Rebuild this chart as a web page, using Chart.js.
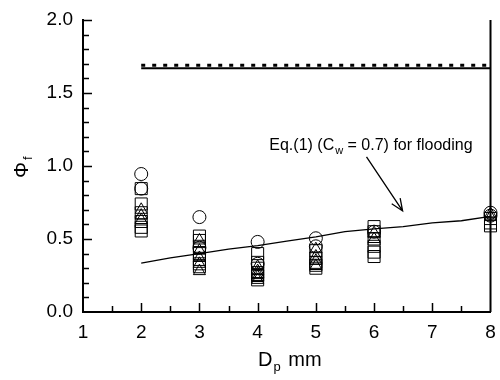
<!DOCTYPE html>
<html>
<head>
<meta charset="utf-8">
<script src="https://cdn.jsdelivr.net/npm/chart.js@4.4.1/dist/chart.umd.min.js"></script>
<style>
  html, body { margin: 0; padding: 0; background: #fff; }
  #wrap { width: 500px; height: 380px; }
</style>
</head>
<body>
<div id="wrap"><canvas id="grafico"></canvas></div>
<script>
// datos
const circX = [2, 2, 3, 3, 4, 4, 5, 5, 6, 8, 8];
const circY = [0.945, 0.845, 0.65, 0.44, 0.48, 0.33, 0.505, 0.45, 0.55, 0.68, 0.66];

const sqX = [2, 2, 2, 2, 2, 2, 3, 3, 3, 3, 3, 3, 3, 4, 4, 4, 4, 4, 4, 5, 5, 5, 5, 5, 6, 6, 6, 6, 6, 6, 8, 8, 8];
const sqY = [0.845, 0.74, 0.68, 0.62, 0.58, 0.555,
  0.52, 0.49, 0.45, 0.40, 0.36, 0.33, 0.31,
  0.40, 0.34, 0.30, 0.27, 0.25, 0.22,
  0.42, 0.37, 0.34, 0.32, 0.30,
  0.585, 0.55, 0.50, 0.45, 0.41, 0.38,
  0.64, 0.61, 0.59];

const triX = [2, 2, 2, 3, 3, 3, 3, 3, 4, 4, 4, 4, 4, 5, 5, 5, 5, 6, 6, 8, 8];
const triY = [0.70, 0.66, 0.63, 0.49, 0.42, 0.37, 0.33, 0.28, 0.31, 0.28, 0.26, 0.24, 0.22, 0.43, 0.38, 0.35, 0.315, 0.54, 0.50, 0.67, 0.65];

// Eq.(1) Cw = 0.7
const eqX = [2, 2.5, 3, 3.5, 4, 4.5, 5, 5.5, 6, 6.5, 7, 7.5, 8];
const eqY = [0.335, 0.37, 0.40, 0.43, 0.455, 0.485, 0.515, 0.55, 0.57, 0.585, 0.61, 0.625, 0.655];

// lineas horizontales de arriba
const limX = [2, 8];
const limSolido = [1.67, 1.67];
const limPunteado = [1.69, 1.69];

const xTicks = [1, 2, 3, 4, 5, 6, 7, 8];
const yTicks = [0, 0.5, 1.0, 1.5, 2.0];

const pares = (xs, ys) => xs.map((x, i) => ({ x: x, y: ys[i] }));

const fuente = "'Liberation Sans', Arial, sans-serif";

// ticks hacia adentro, borde derecho, titulos y flecha
const extras = {
  id: 'extras',
  afterDraw(chart) {
    const ctx = chart.ctx;
    const xs = chart.scales.x, ys = chart.scales.y;
    const a = chart.chartArea;
    ctx.save();
    ctx.strokeStyle = '#000';
    ctx.lineWidth = 1.5;
    ctx.beginPath();
    for (let i = 1; i <= 20; i++) {
      const py = Math.round(ys.getPixelForValue(i / 10)) + 0.5;
      const len = i % 5 === 0 ? 9 : 6;
      ctx.moveTo(a.left, py);
      ctx.lineTo(a.left + len, py);
    }
    for (let i = 3; i <= 15; i++) {
      const px = Math.round(xs.getPixelForValue(i / 2)) + 0.5;
      const len = i % 2 === 0 ? 9 : 6;
      ctx.moveTo(px, a.bottom);
      ctx.lineTo(px, a.bottom - len);
    }
    ctx.stroke();

    // borde derecho
    ctx.lineWidth = 2;
    ctx.beginPath();
    ctx.moveTo(a.right, a.top);
    ctx.lineTo(a.right, a.bottom);
    ctx.stroke();

    ctx.fillStyle = '#000';
    ctx.textBaseline = 'alphabetic';

    // titulo eje x: Dp mm
    ctx.font = '20px ' + fuente;
    ctx.textAlign = 'left';
    let tx = 258, ty = 366;
    ctx.fillText('D', tx, ty);
    tx += ctx.measureText('D').width;
    ctx.font = '13px ' + fuente;
    ctx.fillText('p', tx + 1, ty + 5);
    tx += ctx.measureText('p').width + 1;
    ctx.font = '20px ' + fuente;
    ctx.fillText(' mm', tx + 2, ty);

    // titulo eje y: Φf
    ctx.save();
    ctx.translate(28, 178);
    ctx.rotate(-Math.PI / 2);
    ctx.font = '20px ' + fuente;
    ctx.fillText('Φ', 0, 0);
    const w = ctx.measureText('Φ').width;
    ctx.font = '13px ' + fuente;
    ctx.fillText('f', w + 2, 4);
    ctx.restore();

    // texto de la ecuacion
    const ex = xs.getPixelForValue(4.2), ey = ys.getPixelForValue(1.11);
    ctx.font = '16px ' + fuente;
    let cx = ex;
    ctx.fillText('Eq.(1) (C', cx, ey);
    cx += ctx.measureText('Eq.(1) (C').width;
    ctx.font = '11px ' + fuente;
    ctx.fillText('w', cx + 1, ey + 4);
    cx += ctx.measureText('w').width + 1;
    ctx.font = '16px ' + fuente;
    ctx.fillText(' = 0.7) for flooding', cx, ey);

    // flecha
    const x0 = xs.getPixelForValue(5.87), y0 = ys.getPixelForValue(1.062);
    const x1 = xs.getPixelForValue(6.49), y1 = ys.getPixelForValue(0.692);
    const ang = Math.atan2(y1 - y0, x1 - x0);
    ctx.lineWidth = 1.3;
    ctx.beginPath();
    ctx.moveTo(x0, y0);
    ctx.lineTo(x1, y1);
    ctx.moveTo(x1 - 13 * Math.cos(ang - 0.4), y1 - 13 * Math.sin(ang - 0.4));
    ctx.lineTo(x1, y1);
    ctx.lineTo(x1 - 13 * Math.cos(ang + 0.4), y1 - 13 * Math.sin(ang + 0.4));
    ctx.stroke();
    ctx.restore();
  }
};

const marcador = (style, r) => ({
  type: 'scatter',
  pointStyle: style,
  pointRadius: r,
  pointBorderColor: '#000',
  pointBackgroundColor: 'rgba(0,0,0,0)',
  pointBorderWidth: 1,
  showLine: false,
  clip: false
});

new Chart(document.getElementById('grafico'), {
  type: 'scatter',
  data: {
    datasets: [
      { ...marcador('circle', 6.5), data: pares(circX, circY) },
      { ...marcador('rect', 8.5), data: pares(sqX, sqY) },
      { ...marcador('triangle', 7), data: pares(triX, triY) },
      {
        type: 'line', data: pares(eqX, eqY), borderColor: '#000', borderWidth: 1.3,
        pointRadius: 0, fill: false, tension: 0
      },
      {
        type: 'line', data: pares(limX, limSolido), borderColor: '#000', borderWidth: 2,
        pointRadius: 0, fill: false
      },
      {
        type: 'line', data: pares(limX, limPunteado), borderColor: '#000', borderWidth: 3,
        borderDash: [4, 7], pointRadius: 0, fill: false
      }
    ]
  },
  options: {
    responsive: true,
    maintainAspectRatio: false,
    animation: false,
    layout: { padding: { left: 0, right: 9, top: 20, bottom: 0 } },
    plugins: { legend: { display: false }, tooltip: { enabled: false } },
    scales: {
      x: {
        type: 'linear', min: 1, max: 8,
        afterFit: s => { s.height = 68; s.paddingRight = 0; s.paddingLeft = 0; },
        afterBuildTicks: s => { s.ticks = xTicks.map(v => ({ value: v })); },
        grid: { drawOnChartArea: false, drawTicks: false },
        border: { display: true, color: '#000', width: 2 },
        ticks: { color: '#000', font: { family: fuente, size: 19 }, padding: 9, maxRotation: 0 }
      },
      y: {
        type: 'linear', min: 0, max: 2,
        afterFit: s => { s.width = 83; s.paddingTop = 0; s.paddingBottom = 0; },
        afterBuildTicks: s => { s.ticks = yTicks.map(v => ({ value: v })); },
        grid: { drawOnChartArea: false, drawTicks: false },
        border: { display: true, color: '#000', width: 2 },
        ticks: {
          color: '#000', font: { family: fuente, size: 19 }, padding: 10,
          callback: v => v.toFixed(1)
        }
      }
    }
  },
  plugins: [extras]
});
</script>
</body>
</html>
